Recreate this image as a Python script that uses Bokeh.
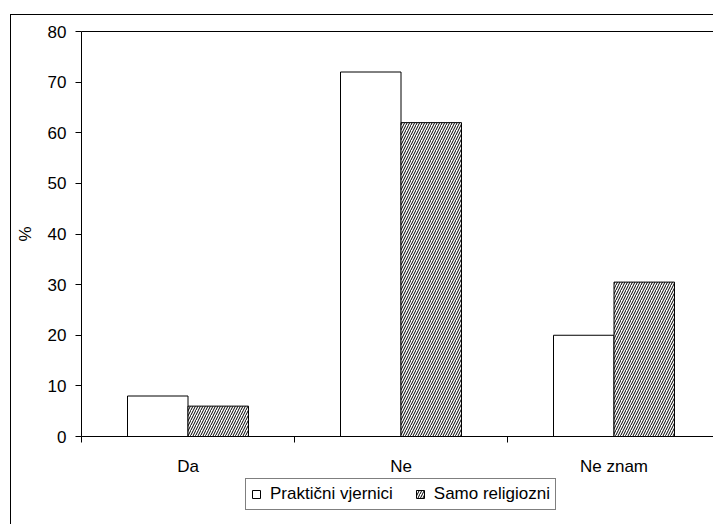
from bokeh.plotting import figure
from bokeh.models import Range1d, FixedTicker, LinearAxis, Legend, LegendItem
from bokeh.embed import file_html
from bokeh.resources import INLINE

categories = ["Da", "Ne", "Ne znam"]
series_names = ["Praktični vjernici", "Samo religiozni"]
prakticni = [8, 72, 20]
samo_religiozni = [6, 62, 30.5]
y_ticks = [0, 10, 20, 30, 40, 50, 60, 70, 80]
y_label = "%"

FONT = "Liberation Sans"
BAR_W = 0.284

# canvas geometry (px)
W, H = 703, 510
PLOT_L, PLOT_T, PLOT_B = 70, 16, 421
CAT_PX = 213.0
Y_MAX = 80.0
px_per_unit = (PLOT_B - PLOT_T) / Y_MAX
x_start = -PLOT_L / CAT_PX
x_end = (W - PLOT_L) / CAT_PX
y_end = Y_MAX + PLOT_T / px_per_unit
y_start = -(H - PLOT_B) / px_per_unit

centers = [i + 0.5 for i in range(len(categories))]
bounds = [float(i) for i in range(len(categories) + 1)]
x_left = [c - BAR_W / 2 for c in centers]
x_right = [c + BAR_W / 2 for c in centers]

p = figure(width=W, height=H, output_backend="svg", toolbar_location=None,
           x_range=Range1d(x_start, x_end), y_range=Range1d(y_start, y_end),
           min_border=0, min_border_left=0, min_border_right=0,
           min_border_top=0, min_border_bottom=0)
p.outline_line_color = None
p.background_fill_color = "white"
p.border_fill_color = "white"
p.xgrid.visible = False
p.ygrid.visible = False
p.margin = (14, 0, 0, 10)
p.styles = {"border-left": "1px solid black", "border-top": "1px solid black"}

r1 = p.vbar(x=x_left, top=prakticni, width=BAR_W, bottom=0,
            fill_color="white", line_color="black", line_width=1)
r2 = p.vbar(x=x_right, top=samo_religiozni, width=BAR_W, bottom=0,
            fill_color="white", line_color="black", line_width=1,
            hatch_pattern="/", hatch_scale=5, hatch_weight=1, hatch_color="black")

# y axis
yax = p.yaxis[0]
yax.fixed_location = 0
yax.bounds = (0, Y_MAX)
yax.ticker = FixedTicker(ticks=y_ticks)
yax.minor_tick_line_color = None
yax.major_tick_in = 0
yax.major_tick_out = 6
yax.major_label_standoff = 9
yax.major_label_text_font = FONT
yax.major_label_text_font_size = "17px"
yax.major_label_text_color = "black"
yax.axis_line_color = "black"
yax.major_tick_line_color = "black"
yax.axis_label = y_label
yax.axis_label_text_font = FONT
yax.axis_label_text_font_size = "17px"
yax.axis_label_text_font_style = "normal"
yax.axis_label_text_color = "black"
yax.axis_label_standoff = 10

# x axis
xax = p.xaxis[0]
xax.fixed_location = 0
xax.bounds = (0, x_end)
xax.ticker = FixedTicker(ticks=centers, minor_ticks=bounds)
xax.major_label_overrides = {c: name for c, name in zip(centers, categories)}
xax.major_tick_in = 0
xax.major_tick_out = 0
xax.major_tick_line_color = None
xax.minor_tick_in = 0
xax.minor_tick_out = 6
xax.minor_tick_line_color = "black"
xax.major_label_standoff = 14
xax.major_label_text_font = FONT
xax.major_label_text_font_size = "17px"
xax.major_label_text_color = "black"
xax.axis_line_color = "black"

# top border of plot area
top_axis = LinearAxis(ticker=FixedTicker(ticks=[]), major_label_text_font_size="0px",
                      major_tick_line_color=None, minor_tick_line_color=None,
                      axis_line_color="black", fixed_location=Y_MAX, bounds=(0, x_end))
p.add_layout(top_axis, "above")

legend = Legend(items=[LegendItem(label=series_names[0], renderers=[r1]),
                       LegendItem(label=series_names[1], renderers=[r2])],
                orientation="horizontal", location=(234, 15))
legend.border_line_color = "black"
legend.border_line_width = 1
legend.background_fill_color = "white"
legend.background_fill_alpha = 1
legend.padding = 5
legend.spacing = 22
legend.margin = 0
legend.label_standoff = 9
legend.glyph_width = 10
legend.glyph_height = 10
legend.label_height = 14
legend.label_text_font = FONT
legend.label_text_font_size = "17px"
legend.label_text_color = "black"
p.add_layout(legend)

open("out.html", "w").write(file_html(p, INLINE))
